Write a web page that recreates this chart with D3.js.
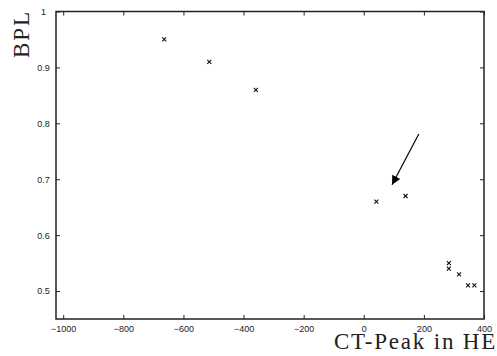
<!DOCTYPE html>
<html>
<head>
<meta charset="utf-8">
<script src="https://cdn.jsdelivr.net/npm/d3@7/dist/d3.min.js"></script>
<style>
  html, body { margin: 0; padding: 0; background: #fff; }
  svg { display: block; }
  .tick text { font-family: "Liberation Sans", Arial, sans-serif; font-size: 9px; fill: #222; }
</style>
</head>
<body>
<svg id="chart" width="497" height="356"></svg>
<script>
// CT peak (HE) versus BPL measurements
const ctPeak = [-664, -514, -359, 42, 139, 283, 283, 317, 347, 368];
const bpl    = [0.95, 0.91, 0.86, 0.66, 0.67, 0.55, 0.54, 0.53, 0.51, 0.51];

const xTicks = [-1000, -800, -600, -400, -200, 0, 200, 400];
const yTicks = [0.5, 0.6, 0.7, 0.8, 0.9, 1];

// annotation arrow: tail -> head, in data units
const arrowFrom = [183, 0.781];
const arrowTo   = [94, 0.690];

const svg = d3.select("#chart");
const margin = { left: 56, right: 13, top: 11.5, bottom: 37 };
const W = 497, H = 356;

const x = d3.scaleLinear().domain([-1024, 400]).range([margin.left, W - margin.right]);
const y = d3.scaleLinear().domain([0.45, 1.0]).range([H - margin.bottom, margin.top]);

const tickLen = 4;

// bottom axis with labels
const gx = svg.append("g").attr("transform", `translate(0,${y.range()[0]})`)
  .call(d3.axisBottom(x).tickValues(xTicks).tickSizeInner(-tickLen).tickSizeOuter(0).tickPadding(7).tickFormat(d3.format("d")));
// top axis ticks
const gxt = svg.append("g").attr("transform", `translate(0,${y.range()[1]})`)
  .call(d3.axisTop(x).tickValues(xTicks).tickSizeInner(-tickLen).tickSizeOuter(0).tickFormat(""));
// left axis with labels
const gy = svg.append("g").attr("transform", `translate(${x.range()[0]},0)`)
  .call(d3.axisLeft(y).tickValues(yTicks).tickSizeInner(-tickLen).tickSizeOuter(0).tickPadding(0).tickFormat(d3.format("")));
gy.selectAll(".tick text").attr("text-anchor", "middle").attr("x", -12.5);
// right axis ticks
const gyr = svg.append("g").attr("transform", `translate(${x.range()[1]},0)`)
  .call(d3.axisRight(y).tickValues(yTicks).tickSizeInner(-tickLen).tickSizeOuter(0).tickFormat(""));

[gx, gxt, gy, gyr].forEach(g => {
  g.select(".domain").remove();
  g.selectAll(".tick line").attr("stroke", "#222").attr("stroke-width", 1);
});

// frame
svg.append("rect")
  .attr("x", x.range()[0]).attr("y", y.range()[1])
  .attr("width", x.range()[1] - x.range()[0])
  .attr("height", y.range()[0] - y.range()[1])
  .attr("fill", "none").attr("stroke", "#222").attr("stroke-width", 1.5);

// point markers (crosses)
const s = 2;
svg.append("g").selectAll("path").data(ctPeak.map((v, i) => [v, bpl[i]])).join("path")
  .attr("d", d => {
    const cx = x(d[0]), cy = y(d[1]);
    return `M${cx - s},${cy - s}L${cx + s},${cy + s}M${cx - s},${cy + s}L${cx + s},${cy - s}`;
  })
  .attr("stroke", "#111").attr("stroke-width", 1.1).attr("fill", "none");

// annotation arrow
svg.append("defs").append("marker")
  .attr("id", "head").attr("viewBox", "0 0 10 10").attr("refX", 10).attr("refY", 5)
  .attr("markerWidth", 16).attr("markerHeight", 9).attr("markerUnits", "userSpaceOnUse")
  .attr("orient", "auto")
  .append("path").attr("d", "M0,0L10,5L0,10Z").attr("fill", "#000");

svg.append("line")
  .attr("x1", x(arrowFrom[0])).attr("y1", y(arrowFrom[1]))
  .attr("x2", x(arrowTo[0])).attr("y2", y(arrowTo[1]))
  .attr("stroke", "#000").attr("stroke-width", 1.2)
  .attr("marker-end", "url(#head)");

// axis titles
svg.append("text")
  .attr("transform", "translate(29,34) rotate(-90)")
  .attr("text-anchor", "middle")
  .attr("font-family", "'Liberation Serif', 'DejaVu Serif', serif")
  .attr("font-size", 23).attr("letter-spacing", 2).attr("fill", "#222")
  .text("BPL");

svg.append("text")
  .attr("x", 497).attr("y", 349)
  .attr("text-anchor", "end")
  .attr("font-family", "'Liberation Serif', 'DejaVu Serif', serif")
  .attr("font-size", 23).attr("letter-spacing", 1.8).attr("fill", "#222")
  .text("CT-Peak in HE");
</script>
</body>
</html>
